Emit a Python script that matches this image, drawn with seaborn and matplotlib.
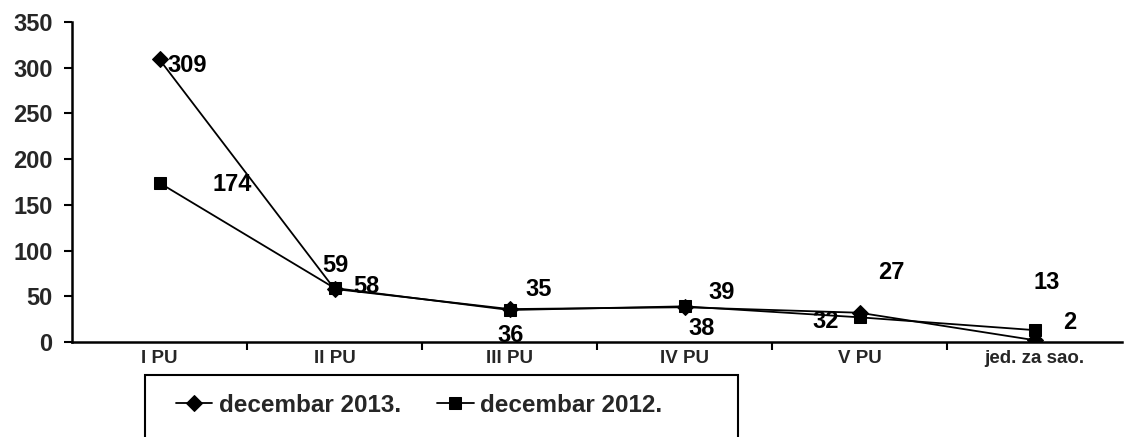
import matplotlib
matplotlib.use("Agg")
import matplotlib.pyplot as plt
import seaborn as sns
import pandas as pd
from matplotlib.patches import Rectangle

categories = ["I PU", "II PU", "III PU", "IV PU", "V PU", "jed. za sao."]
series_2013 = [309, 58, 36, 38, 32, 2]
series_2012 = [174, 59, 35, 39, 27, 13]
name_2013 = "decembar 2013."
name_2012 = "decembar 2012."
y_ticks = [0, 50, 100, 150, 200, 250, 300, 350]

# label offsets in pixels (dx, dy, ha)
off_2013 = [(8, -6, "left"), (19, 2, "left"), (1, -26, "center"), (17, -21, "center"), (-34, -9, "center"), (35, 18, "center")]
off_2012 = [(53, -2, "left"), (1, 23, "center"), (29, 20, "center"), (37, 14, "center"), (32, 45, "center"), (12, 48, "center")]

sns.set_theme(style="ticks")
plt.rcParams["font.family"] = ["Liberation Sans", "DejaVu Sans"]
plt.rcParams["font.weight"] = "bold"

df = pd.DataFrame({
    "cat": categories * 2,
    "val": series_2013 + series_2012,
    "series": [name_2013] * len(categories) + [name_2012] * len(categories),
})

W, H = 1129, 437
fig = plt.figure(figsize=(W / 100, H / 100), dpi=100)
ax = fig.add_axes([72 / W, 1 - 342 / H, (1122 - 72) / W, (342 - 22) / H])

sns.lineplot(data=df, x="cat", y="val", hue="series", style="series",
             markers={name_2013: "D", name_2012: "s"}, dashes=False,
             palette={name_2013: "black", name_2012: "black"},
             markersize=8, linewidth=1.3, markeredgecolor="black",
             sort=False, ax=ax)
handles, labels = ax.get_legend_handles_labels()
ax.get_legend().remove()

for vals, offs in ((series_2013, off_2013), (series_2012, off_2012)):
    for i, (v, (dx, dy, ha)) in enumerate(zip(vals, offs)):
        ax.annotate(str(v), (i, v), xytext=(dx, dy), textcoords="offset pixels",
                    ha=ha, va="center", fontsize=17, fontweight="bold", color="black")

ax.set_xlim(-0.5, len(categories) - 0.5)
ax.set_ylim(0, 350)
ax.set_yticks(y_ticks)
ax.set_yticklabels([str(t) for t in y_ticks], fontsize=17, fontweight="bold")
ax.set_xticks(range(len(categories)))
ax.set_xticklabels(categories, fontsize=13.5, fontweight="bold")
ax.set_xticks([i - 0.5 for i in range(1, len(categories))], minor=True)
ax.tick_params(axis="x", which="major", length=0, pad=6)
ax.tick_params(axis="x", which="minor", length=6, width=1.5, direction="out", color="black")
ax.tick_params(axis="y", length=6, width=1.5, direction="out", color="black", pad=8)
ax.set_xlabel("")
ax.set_ylabel("")
for s in ("top", "right"):
    ax.spines[s].set_visible(False)
for s in ("left", "bottom"):
    ax.spines[s].set_linewidth(1.8)
    ax.spines[s].set_color("black")
ax.grid(False)

fig.patches.append(Rectangle((145 / W, 1 - 460 / H), (738 - 145) / W, (460 - 375) / H,
                             transform=fig.transFigure, fill=False, edgecolor="black",
                             linewidth=1.5, clip_on=False))
fig.legend(handles, labels, loc="center left", bbox_to_anchor=(176 / W, 1 - 405 / H),
           ncol=2, frameon=False, handlelength=1.5, handletextpad=0.25,
           columnspacing=1.5, borderaxespad=0, borderpad=0,
           prop={"weight": "bold", "size": 17.5})

fig.savefig("out.png", dpi=100)
